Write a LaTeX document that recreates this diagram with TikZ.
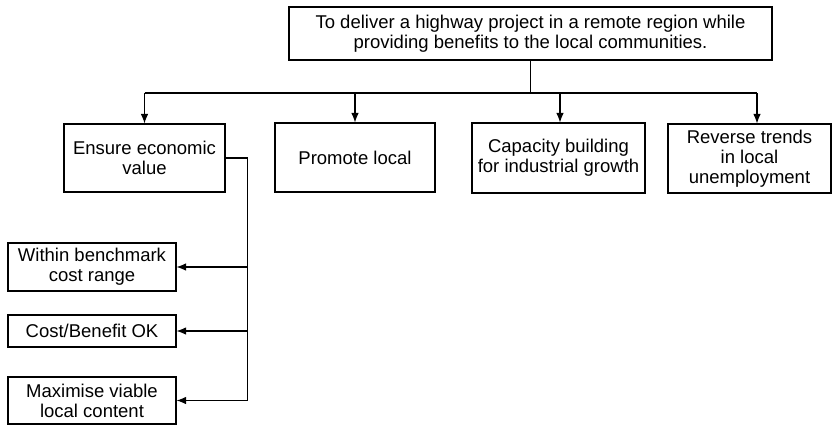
\documentclass[tikz,border=0pt]{standalone}
\usepackage{fontspec}
\setmainfont{Liberation Sans}
\usetikzlibrary{arrows.meta, positioning}

\begin{document}
\begin{tikzpicture}[x=1pt, y=-1pt, >={Latex[length=9.5pt,width=7.5pt]},
    line width=1.1pt,
    box/.style={draw, align=center, inner sep=0pt,
      font=\fontsize{18.5}{20}\selectfont}]
  % --- objective tree for the highway project ---
  \useasboundingbox (0,0) rectangle (835,426);

  % Top goal
  \node[box, minimum width=483pt, minimum height=53pt] (goal) at (530.5,33.5)
    {To deliver a highway project in a remote region while\\
     providing benefits to the local communities.};

  % Second row of objectives
  \node[box, minimum width=161pt, minimum height=68pt] (value) at (144.5,158)
    {Ensure economic\\value};
  \node[box, minimum width=160pt, minimum height=69pt] (promote) at (355,157.5)
    {Promote local};
  \node[box, minimum width=173pt, minimum height=70pt] (capacity) at (558.5,158)
    {Capacity building\\for industrial growth};
  \node[box, minimum width=163pt, minimum height=69pt] (reverse) at (749.5,158.5)
    {Reverse trends\\in local\\unemployment};

  % Sub-objectives of economic value
  \node[box, minimum width=168pt, minimum height=48pt] (within) at (92,267)
    {Within benchmark\\cost range};
  \node[box, minimum width=168pt, minimum height=32pt] (costben) at (92,331)
    {Cost/Benefit OK};
  \node[box, minimum width=168pt, minimum height=47pt] (viable) at (92,400.5)
    {Maximise viable\\local content};

  % Branch line under the goal
  \coordinate (split) at (goal.south |- 0,93);
  \coordinate (revtop) at ([xshift=7.5pt]reverse.north);
  \draw (goal.south) -- (split);
  \draw (value.north |- split) -- (revtop |- split);
  \draw[->] (value.north |- split) -- (value.north);
  \draw[->] (promote.north |- split) -- (promote.north);
  \draw[->] ([xshift=1.5pt]capacity.north |- split) -- ([xshift=1.5pt]capacity.north);
  \draw[->] (revtop |- split) -- (revtop);

  % Side bus to the sub-objectives
  \coordinate (bus) at ([xshift=22pt]value.east);
  \draw (value.east) -- (bus) -- (bus |- viable);
  \foreach \n in {within, costben, viable}
    \draw[->] (bus |- \n) -- (\n.east);
\end{tikzpicture}
\end{document}
